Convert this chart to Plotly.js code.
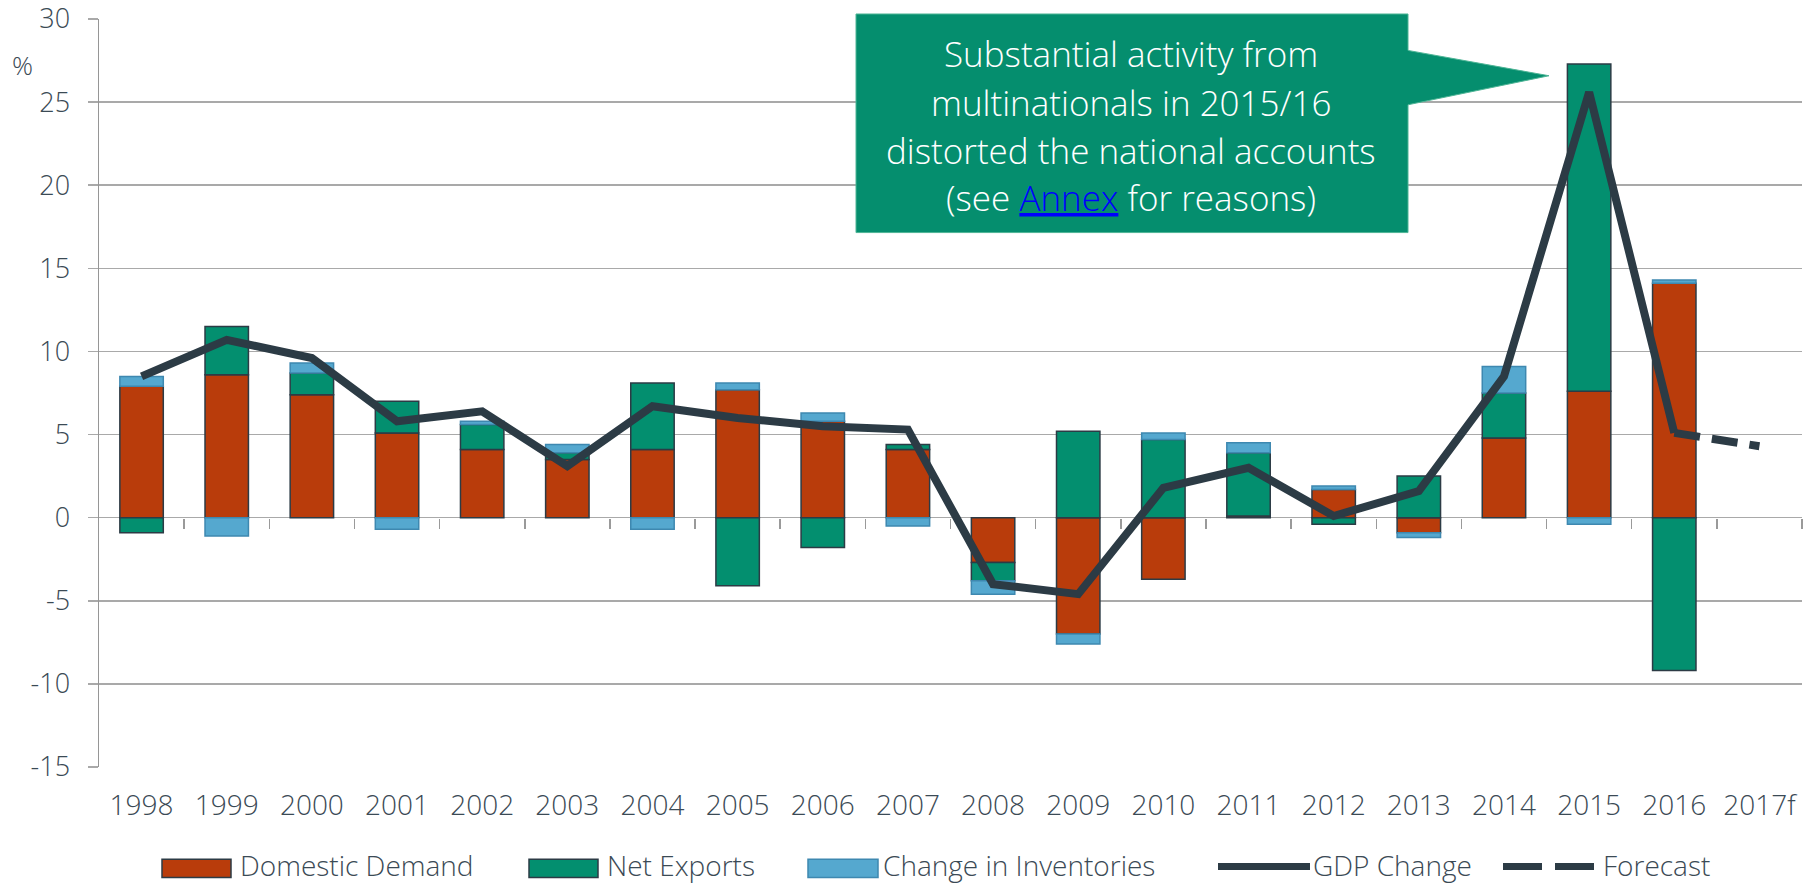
<!DOCTYPE html>
<html>
<head>
<meta charset="utf-8">
<script src="https://cdn.plot.ly/plotly-3.0.1.min.js"></script>
<style>
  html, body { margin: 0; padding: 0; background: #ffffff; }
  #chart { width: 1818px; height: 885px; }
</style>
</head>
<body>
<div id="chart"></div>
<script>
// ---- Data ----
const years = ['1998','1999','2000','2001','2002','2003','2004','2005','2006','2007',
               '2008','2009','2010','2011','2012','2013','2014','2015','2016','2017f'];
const domesticDemand = [7.9, 8.6, 7.4, 5.1, 4.1, 3.5, 4.1, 7.7, 5.8, 4.1,
                        -2.7, -7.0, -3.7, 0.1, 1.7, -0.9, 4.8, 7.6, 14.1, null];
const netExports     = [-0.9, 2.9, 1.3, 1.9, 1.5, 0.4, 4.0, -4.1, -1.8, 0.3,
                        -1.1, 5.2, 4.7, 3.8, -0.4, 2.5, 2.7, 19.7, -9.2, null];
const inventories    = [0.6, -1.1, 0.6, -0.7, 0.2, 0.5, -0.7, 0.4, 0.5, -0.5,
                        -0.8, -0.6, 0.4, 0.6, 0.2, -0.3, 1.6, -0.4, 0.2, null];
const gdpChange      = [8.5, 10.7, 9.6, 5.8, 6.4, 3.1, 6.7, 6.0, 5.5, 5.3,
                        -4.0, -4.6, 1.8, 3.0, 0.1, 1.6, 8.5, 25.6, 5.1, null];
const forecast       = [null, null, null, null, null, null, null, null, null, null,
                        null, null, null, null, null, null, null, null, 5.1, 4.3];
const yTicks = [-15, -10, -5, 0, 5, 10, 15, 20, 25, 30];
const seriesNames = ['Domestic Demand', 'Net Exports', 'Change in Inventories', 'GDP Change', 'Forecast'];
const calloutLines = [
  'Substantial activity from',
  'multinationals in 2015/16',
  'distorted the national accounts',
  '(see <span style="color:#0000FF"><u>Annex</u></span> for reasons)'
];

// ---- Styles ----
const FONT = 'Open Sans, Noto Sans, sans-serif';
const TXT = '#3b4a55';
const DARK = '#2c3b45';
const GRID = '#a9a9a9';
const C_DD = '#b93c0b';
const C_NX = '#038f6f';
const C_INV = '#55a8cf';
const C_INV_LINE = '#3e88b0';
const C_BOX = '#058e6e';

const traces = [
  { type: 'bar', name: seriesNames[0], x: years, y: domesticDemand,
    marker: { color: C_DD, line: { color: DARK, width: 1.5 } } },
  { type: 'bar', name: seriesNames[1], x: years, y: netExports,
    marker: { color: C_NX, line: { color: DARK, width: 1.5 } } },
  { type: 'bar', name: seriesNames[2], x: years, y: inventories,
    marker: { color: C_INV, line: { color: C_INV_LINE, width: 1.5 } } },
  { type: 'scatter', mode: 'lines', name: seriesNames[3], x: years, y: gdpChange,
    line: { color: DARK, width: 8 } },
  { type: 'scatter', mode: 'lines', name: seriesNames[4], x: years, y: forecast,
    line: { color: DARK, width: 8, dash: '26px,12px' } },
  // empty helper trace so the category-boundary tick axis (x2) is drawn
  { type: 'scatter', mode: 'lines', x: years.map((_, i) => i), y: years.map(() => null),
    xaxis: 'x2', yaxis: 'y', showlegend: false, hoverinfo: 'skip' }
];

// plot area in pixels
const L = 99, R = 1802, T = 19.3, B = 766.7;
const W = R - L, H = B - T;
const px = v => (v - L) / W;
const py = v => (B - v) / H;

const annotations = calloutLines.map((t, i) => ({
  xref: 'paper', yref: 'paper',
  x: px(1131), y: py([54, 103, 151, 198][i]),
  xanchor: 'center', yanchor: 'middle',
  text: t, showarrow: false,
  font: { family: FONT, size: 35, color: '#ffffff', weight: 300 }
}));
annotations.push({
  xref: 'paper', yref: 'paper', x: px(22), y: py(65),
  xanchor: 'center', yanchor: 'middle', text: '%', showarrow: false,
  font: { family: FONT, size: 26, color: TXT, weight: 300 }
});

// ---- custom legend (wide swatches like the reference) ----
const LEG_Y = 865;
const legendTextX = [238, 605, 881, 1311, 1601];
seriesNames.forEach((n, i) => {
  annotations.push({
    xref: 'paper', yref: 'paper', x: px(legendTextX[i]), y: py(LEG_Y),
    xanchor: 'left', yanchor: 'middle', text: n, showarrow: false,
    font: { family: FONT, size: 28, color: TXT, weight: 300 }
  });
});
const legendShapes = [
  { type: 'rect', x0: px(162), x1: px(231), y0: py(859), y1: py(877),
    fillcolor: C_DD, line: { color: DARK, width: 1.5 } },
  { type: 'rect', x0: px(529), x1: px(598), y0: py(859), y1: py(877),
    fillcolor: C_NX, line: { color: DARK, width: 1.5 } },
  { type: 'rect', x0: px(808), x1: px(878), y0: py(859), y1: py(877),
    fillcolor: C_INV, line: { color: C_INV_LINE, width: 1.5 } },
  { type: 'line', x0: px(1218), x1: px(1310), y0: py(866), y1: py(866),
    line: { color: DARK, width: 7 } },
  { type: 'line', x0: px(1503), x1: px(1542), y0: py(866), y1: py(866),
    line: { color: DARK, width: 7 } },
  { type: 'line', x0: px(1555), x1: px(1594), y0: py(866), y1: py(866),
    line: { color: DARK, width: 7 } }
].map(s => Object.assign({ xref: 'paper', yref: 'paper', layer: 'above' }, s));

const boxPath = 'M ' + px(856) + ' ' + py(14.3) +
  ' L ' + px(1408) + ' ' + py(14.3) +
  ' L ' + px(1408) + ' ' + py(50.7) +
  ' L ' + px(1549) + ' ' + py(76) +
  ' L ' + px(1408) + ' ' + py(105) +
  ' L ' + px(1408) + ' ' + py(232.7) +
  ' L ' + px(856) + ' ' + py(232.7) + ' Z';

const layout = {
  width: 1818, height: 885,
  margin: { l: L, r: 1818 - R, t: T, b: 885 - B, autoexpand: false },
  paper_bgcolor: '#ffffff', plot_bgcolor: '#ffffff',
  barmode: 'relative', bargap: 0.49,
  font: { family: FONT, size: 26, color: TXT, weight: 300 },
  showlegend: false,
  xaxis: { type: 'category', range: [-0.5, 19.5], showgrid: false, zeroline: false,
           showline: false, ticks: '', ticklabelstandoff: 19,
           tickfont: { family: FONT, size: 28, color: TXT, weight: 300 } },
  xaxis2: { overlaying: 'x', anchor: 'free', position: (0 - (-15)) / 45, side: 'bottom',
            range: [-0.5, 19.5], tickmode: 'array',
            tickvals: years.map((_, i) => i + 0.5),
            ticks: 'outside', ticklen: 10, tickwidth: 1.5, tickcolor: '#9a9a9a',
            showticklabels: false, showgrid: false, zeroline: false, showline: false,
            fixedrange: true },
  yaxis: { range: [-15, 30], tickmode: 'array', tickvals: yTicks,
           ticktext: yTicks.map(v => String(v)), ticklabeloverflow: 'allow',
           showgrid: true, gridcolor: GRID, gridwidth: 1.5,
           zeroline: true, zerolinecolor: GRID, zerolinewidth: 1.5,
           showline: true, linecolor: '#969696', linewidth: 1.5,
           ticks: 'outside', ticklen: 10, tickwidth: 1.5, tickcolor: GRID,
           ticklabelstandoff: 12,
           tickfont: { family: FONT, size: 27, color: TXT, weight: 300 } },
  shapes: [{ type: 'path', xref: 'paper', yref: 'paper', path: boxPath,
             fillcolor: C_BOX, line: { color: '#4fb596', width: 1 }, layer: 'above' }]
          .concat(legendShapes),
  annotations: annotations
};

Plotly.newPlot('chart', traces, layout, { displayModeBar: false, staticPlot: true });
</script>
</body>
</html>
